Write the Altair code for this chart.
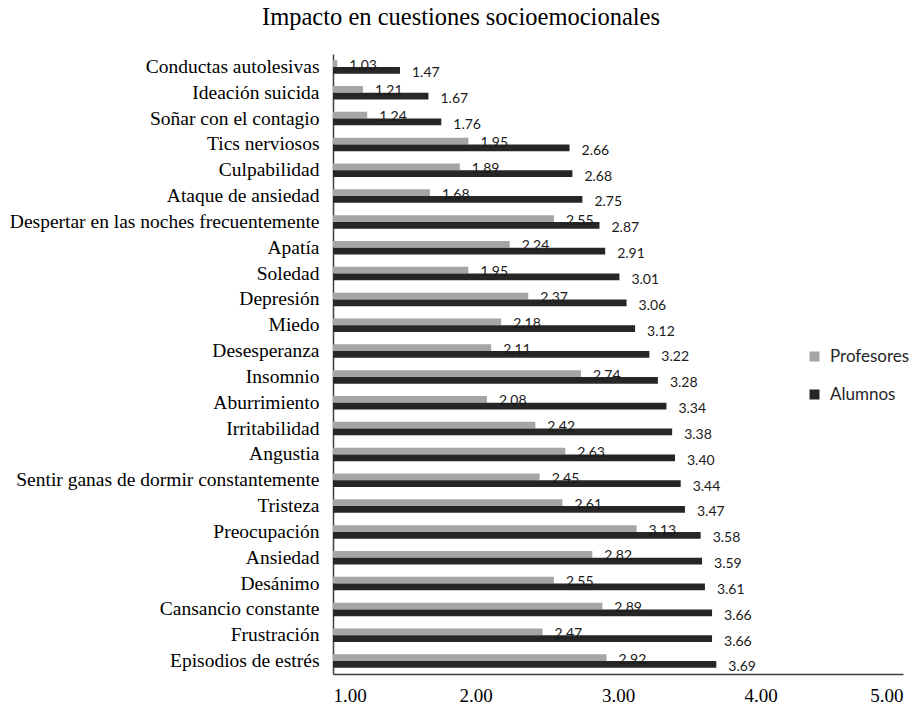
import altair as alt
import pandas as pd

categorias = [
    "Conductas autolesivas", "Ideación suicida", "Soñar con el contagio", "Tics nerviosos ",
    "Culpabilidad", "Ataque de ansiedad", "Despertar en las noches frecuentemente", "Apatía",
    "Soledad", "Depresión", "Miedo", "Desesperanza", "Insomnio", "Aburrimiento",
    "Irritabilidad", "Angustia", "Sentir ganas de dormir constantemente", "Tristeza",
    "Preocupación", "Ansiedad", "Desánimo", "Cansancio constante", "Frustración",
    "Episodios de estrés",
]
profesores = [1.03, 1.21, 1.24, 1.95, 1.89, 1.68, 2.55, 2.24, 1.95, 2.37, 2.18, 2.11,
              2.74, 2.08, 2.42, 2.63, 2.45, 2.61, 3.13, 2.82, 2.55, 2.89, 2.47, 2.92]
alumnos = [1.47, 1.67, 1.76, 2.66, 2.68, 2.75, 2.87, 2.91, 3.01, 3.06, 3.12, 3.22,
           3.28, 3.34, 3.38, 3.40, 3.44, 3.47, 3.58, 3.59, 3.61, 3.66, 3.66, 3.69]
series = ["Profesores", "Alumnos"]
colores = ["#a5a5a5", "#262626"]
ticks = [1, 2, 3, 4, 5]

rows = []
for c, p, a in zip(categorias, profesores, alumnos):
    rows.append({"cat": c, "serie": "Profesores", "valor": p, "base": 1.0, "label": f"{p:.2f}"})
    rows.append({"cat": c, "serie": "Alumnos", "valor": a, "base": 1.0, "label": f"{a:.2f}"})
df = pd.DataFrame(rows)

serif = "Liberation Serif"
sans = "Lato"

y_enc = alt.Y("cat:N", sort=categorias, title=None,
              scale=alt.Scale(paddingInner=0.48, paddingOuter=0.24),
              axis=alt.Axis(labelFont=serif, labelFontSize=19.5, labelPadding=14, labelLimit=400))
yoff = alt.YOffset("serie:N", sort=series, scale=alt.Scale(domain=series, paddingInner=0, paddingOuter=0))
x_enc = alt.X("valor:Q", title=None,
              scale=alt.Scale(domain=[1, 5], zero=False, nice=False),
              axis=alt.Axis(values=ticks, format=".2f", labelFont=serif, labelFontSize=19,
                            grid=False, labelPadding=12))
color = alt.Color("serie:N", scale=alt.Scale(domain=series, range=colores),
                  legend=alt.Legend(title=None, orient="none", legendX=473, legendY=294,
                                    labelFont=sans, labelFontSize=17, labelColor="#262626",
                                    symbolType="square", symbolSize=100, symbolStrokeWidth=0,
                                    rowPadding=20, labelOffset=7))

base = alt.Chart(df)
bars = base.mark_bar(cornerRadius=0).encode(
    y=y_enc, yOffset=yoff, x=x_enc, x2="base:Q", color=color
)
labels_p = base.transform_filter(alt.datum.serie == "Profesores").mark_text(
    align="left", baseline="middle", dx=12, dy=2, font=sans, fontSize=14, color="#1a1a1a"
).encode(y=y_enc, yOffset=yoff, x=x_enc, text="label:N")
labels_a = base.transform_filter(alt.datum.serie == "Alumnos").mark_text(
    align="left", baseline="middle", dx=12, dy=3, font=sans, fontSize=14, color="#1a1a1a"
).encode(y=y_enc, yOffset=yoff, x=x_enc, text="label:N")

chart = (bars + labels_p + labels_a).properties(
    width=570, height=620,
    title=alt.TitleParams("Impacto en cuestiones socioemocionales", font=serif, fontSize=24.5,
                          fontWeight="normal", color="#000000", anchor="middle", dx=-157, offset=24),
    autosize=alt.AutoSizeParams(type="none"),
    padding={"left": 333, "top": 54, "right": 20, "bottom": 36},
).configure_view(stroke=None).configure_axis(
    labelFont=serif, labelColor="#000000", ticks=False, domainColor="#404040",
    domainWidth=1.5, grid=False
)

chart.save("out.html", embed_options={"renderer": "svg", "actions": False})
